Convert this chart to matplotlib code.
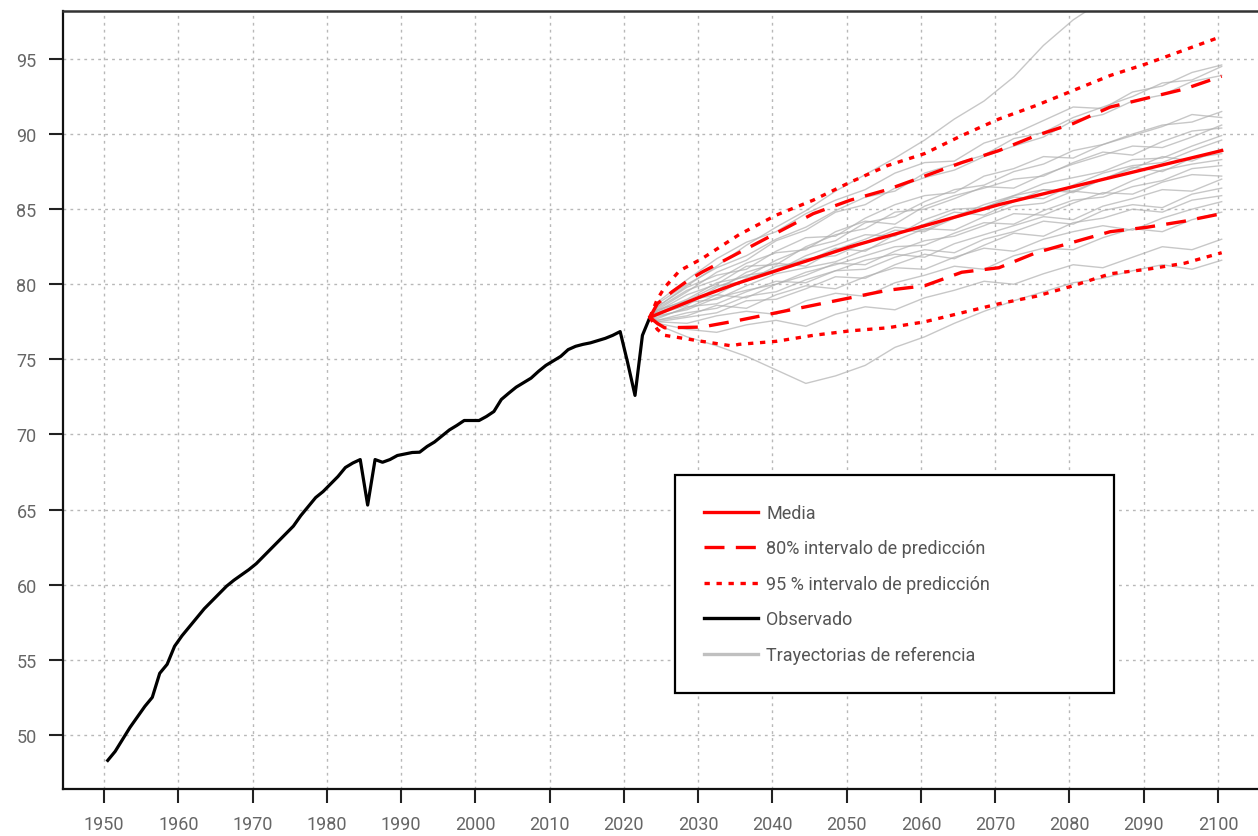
import matplotlib
matplotlib.use('Agg')
import matplotlib.pyplot as plt

plt.rcParams['font.family'] = ['Roboto', 'DejaVu Sans']

# Observed life expectancy, 1950-2023
obs_years = list(range(1950, 2024))
obs_values = [48.3, 48.9, 49.7, 50.5, 51.2, 51.9, 52.5, 54.1, 54.7, 55.9,
              56.6, 57.2, 57.8, 58.4, 58.9, 59.4, 59.9, 60.3, 60.65, 61.0,
              61.4, 61.9, 62.4, 62.9, 63.4, 63.9, 64.6, 65.2, 65.8, 66.2,
              66.7, 67.2, 67.8, 68.1, 68.33, 65.3, 68.33, 68.15, 68.33, 68.6,
              68.7, 68.8, 68.82, 69.2, 69.5, 69.9, 70.3, 70.6, 70.93, 70.93,
              70.93, 71.2, 71.53, 72.33, 72.75, 73.15, 73.45, 73.75, 74.2, 74.6,
              74.9, 75.2, 75.65, 75.87, 76.0, 76.1, 76.25, 76.4, 76.6, 76.85,
              74.8, 72.6, 76.6, 77.8]

# Projection summary (median and prediction intervals)
med_years = [2023, 2025, 2030, 2035, 2040, 2045, 2050, 2055, 2060, 2065,
             2070, 2075, 2080, 2085, 2090, 2095, 2100]
med_values = [77.8, 78.2, 79.2, 80.1, 80.9, 81.7, 82.5, 83.2, 83.9, 84.6,
              85.3, 85.9, 86.5, 87.1, 87.7, 88.3, 88.9]

up80_years = [2023, 2024, 2026, 2028, 2030, 2035, 2040, 2045, 2050, 2055,
              2060, 2065, 2070, 2075, 2080, 2085, 2090, 2095, 2100]
up80_values = [77.8, 78.7, 79.5, 80.2, 80.8, 82.1, 83.4, 84.7, 85.6, 86.3,
               87.2, 88.1, 88.9, 89.9, 90.7, 91.8, 92.4, 93.0, 93.85]

lo80_years = [2023, 2024, 2025, 2030, 2035, 2040, 2045, 2050, 2055, 2060,
              2065, 2070, 2075, 2080, 2085, 2090, 2095, 2100]
lo80_values = [77.8, 77.4, 77.1, 77.15, 77.6, 78.1, 78.6, 79.1, 79.6, 79.9,
               80.8, 81.1, 82.1, 82.8, 83.5, 83.8, 84.2, 84.7]

up95_years = [2023, 2024, 2025, 2027, 2030, 2035, 2040, 2045, 2050, 2055,
              2060, 2065, 2070, 2075, 2080, 2085, 2090, 2095, 2100]
up95_values = [77.8, 79.0, 79.8, 80.9, 81.7, 83.3, 84.6, 85.6, 86.8, 87.9,
               88.7, 89.9, 91.0, 91.9, 92.9, 93.9, 94.7, 95.6, 96.5]

lo95_years = [2023, 2024, 2025, 2030, 2034, 2035, 2040, 2045, 2050, 2055,
              2060, 2065, 2070, 2075, 2080, 2085, 2090, 2095, 2100]
lo95_values = [77.8, 77.0, 76.6, 76.2, 75.9, 76.0, 76.2, 76.6, 76.9, 77.1,
               77.5, 78.1, 78.7, 79.2, 79.9, 80.7, 81.0, 81.4, 82.1]

# Sample trajectories (grey), read at 4-year steps
traj_years = [2023] + list(range(2024, 2101, 4))
trajectories = [
    [77.8, 78.5, 79.9, 81.2, 82.6, 83.8, 84.9, 86.2, 87.3, 88.4, 89.6, 91.0, 92.2, 93.8, 95.9, 97.6, 98.9, 99.6, 100.4, 101.0, 101.3],
    [77.8, 77.3, 76.5, 75.9, 75.2, 74.3, 73.4, 73.9, 74.6, 75.8, 76.5, 77.4, 78.2, 78.9, 79.5, 80.1, 80.4, 80.9, 81.3, 81.0, 81.6],
    [77.8, 78.3, 79.5, 80.8, 81.6, 82.9, 83.6, 84.8, 85.3, 86.4, 87.1, 87.6, 88.5, 89.2, 89.8, 90.9, 91.3, 92.2, 92.6, 93.5, 93.9],
    [77.8, 77.6, 78.1, 78.4, 79.2, 79.5, 80.3, 80.9, 81.0, 81.8, 82.3, 82.1, 83.0, 83.5, 84.2, 84.0, 84.9, 85.3, 85.1, 86.0, 86.4],
    [77.8, 78.2, 79.0, 80.1, 80.5, 81.6, 82.4, 82.9, 84.1, 84.5, 85.5, 86.3, 86.6, 87.5, 88.0, 88.9, 89.3, 90.0, 90.6, 90.8, 91.5],
    [77.8, 77.9, 78.3, 79.1, 79.6, 80.0, 80.8, 81.3, 81.9, 82.5, 82.6, 83.4, 84.1, 84.0, 84.9, 85.6, 85.8, 86.5, 86.9, 87.7, 87.9],
    [77.8, 78.4, 79.6, 80.3, 81.4, 82.1, 82.3, 83.5, 84.2, 84.0, 85.2, 85.9, 86.4, 87.0, 87.2, 88.1, 88.8, 88.6, 89.5, 90.2, 90.4],
    [77.8, 77.5, 77.4, 77.9, 78.2, 78.0, 78.9, 79.4, 79.2, 80.1, 80.6, 81.2, 81.0, 81.9, 82.4, 82.3, 83.1, 83.7, 83.5, 84.3, 84.8],
    [77.8, 78.1, 78.9, 79.3, 80.4, 81.0, 81.7, 81.9, 82.8, 83.6, 83.5, 84.4, 85.1, 85.8, 85.7, 86.6, 87.4, 87.9, 88.1, 88.9, 89.6],
    [77.8, 78.7, 80.0, 81.1, 81.9, 83.0, 83.8, 84.9, 85.8, 86.2, 87.4, 88.0, 88.6, 89.7, 90.1, 91.1, 91.8, 92.5, 93.4, 93.6, 94.5],
    [77.8, 77.7, 78.5, 78.7, 79.5, 80.2, 80.1, 80.9, 81.6, 82.0, 81.8, 82.7, 83.3, 83.9, 84.5, 84.3, 85.2, 85.7, 86.3, 86.2, 87.0],
    [77.8, 78.0, 78.6, 79.8, 80.6, 80.9, 81.9, 82.6, 83.3, 83.2, 84.3, 85.0, 85.1, 85.9, 86.7, 87.1, 87.5, 88.3, 88.4, 89.2, 89.9],
    [77.8, 77.4, 77.0, 76.8, 77.3, 77.6, 77.2, 78.0, 78.5, 78.3, 79.1, 79.6, 80.2, 80.0, 80.7, 81.3, 81.1, 81.8, 82.5, 82.3, 83.0],
    [77.8, 78.5, 79.8, 80.6, 81.0, 82.2, 83.1, 83.2, 84.4, 85.3, 85.9, 86.1, 87.2, 87.7, 88.5, 88.4, 89.3, 89.9, 90.5, 91.3, 91.1],
    [77.8, 78.0, 78.8, 79.0, 79.9, 80.7, 81.1, 81.5, 82.3, 82.9, 83.7, 83.6, 84.5, 85.2, 85.4, 86.2, 86.0, 86.9, 87.6, 88.0, 88.3],
    [77.8, 78.3, 78.9, 79.9, 80.2, 81.2, 81.5, 82.4, 82.2, 83.3, 84.0, 84.8, 84.6, 85.5, 86.3, 86.2, 87.0, 87.8, 87.5, 88.4, 88.7],
    [77.8, 77.6, 77.9, 78.6, 78.4, 79.3, 79.9, 79.7, 80.5, 81.1, 81.0, 81.8, 82.4, 82.2, 83.0, 83.5, 83.9, 83.6, 84.4, 85.0, 85.5],
    [77.8, 78.8, 80.3, 81.7, 82.8, 83.5, 84.7, 85.6, 86.3, 87.4, 88.1, 88.2, 89.4, 90.0, 90.9, 91.8, 91.7, 92.8, 93.2, 94.1, 94.6],
    [77.8, 77.8, 78.4, 79.3, 79.1, 80.0, 80.6, 81.4, 81.3, 82.2, 82.9, 83.2, 83.9, 84.7, 84.6, 85.4, 86.1, 86.0, 86.8, 87.3, 87.2],
    [77.8, 78.2, 79.3, 80.0, 81.2, 81.3, 82.5, 83.3, 83.7, 84.8, 85.0, 85.7, 86.5, 86.4, 87.3, 88.0, 88.6, 89.2, 89.1, 89.8, 90.6],
    [77.8, 77.5, 77.8, 78.1, 78.9, 79.0, 79.7, 80.5, 80.4, 81.3, 82.0, 81.7, 82.6, 83.4, 83.2, 84.1, 84.4, 85.0, 84.8, 85.6, 85.9],
    [77.8, 78.1, 78.7, 79.6, 80.8, 81.4, 81.2, 82.3, 83.0, 83.8, 83.6, 84.5, 85.3, 85.9, 86.3, 86.1, 87.0, 87.7, 88.5, 88.2, 89.0],
]

x_ticks = list(range(1950, 2101, 10))
y_ticks = list(range(50, 96, 5))

DASH80 = (6.0, 3.4)
DOT95 = (1.6, 2.0)


def mid(years):
    # values are plotted at mid-year
    return [y + 0.5 for y in years]


fig = plt.figure(figsize=(12.58, 8.37), dpi=100)
ax = fig.add_axes([0.0501, 0.0562, 0.96, 0.9296])

for tr in trajectories:
    ax.plot(mid(traj_years), tr, color='#b0b0b0', lw=1, alpha=0.7, zorder=2)

ax.plot(mid(obs_years), obs_values, color='black', lw=2.3, zorder=4)
ax.plot(mid(up95_years), up95_values, color='red', lw=2.4, dashes=DOT95, zorder=5)
ax.plot(mid(lo95_years), lo95_values, color='red', lw=2.4, dashes=DOT95, zorder=5)
ax.plot(mid(up80_years), up80_values, color='red', lw=2.4, dashes=DASH80, zorder=5)
ax.plot(mid(lo80_years), lo80_values, color='red', lw=2.4, dashes=DASH80, zorder=5)
ax.plot(mid(med_years), med_values, color='red', lw=2.4, zorder=6)

# legend proxies
h_med, = ax.plot([], [], color='red', lw=2.4, label='Media')
h_80, = ax.plot([], [], color='red', lw=2.4, dashes=DASH80,
                label='80% intervalo de predicción')
h_95, = ax.plot([], [], color='red', lw=2.4, dashes=DOT95,
                label='95 % intervalo de predicción')
h_obs, = ax.plot([], [], color='black', lw=2.4, label='Observado')
h_tr, = ax.plot([], [], color='#c0c0c0', lw=2.4, label='Trayectorias de referencia')

ax.set_xlim(1944.48, 2107.1)
ax.set_ylim(46.4, 98.2)
ax.set_xticks(x_ticks)
ax.set_yticks(y_ticks)
ax.grid(True, color='#b8b8b8', lw=1, linestyle=(0, (2, 3)))
ax.set_axisbelow(True)

ax.tick_params(axis='both', direction='out', length=10, width=1.5,
               color='#222222', labelsize=13, labelcolor='#666666', pad=9)
for side in ['left', 'bottom']:
    ax.spines[side].set_linewidth(1.6)
    ax.spines[side].set_color('#111111')
ax.spines['top'].set_linewidth(1.8)
ax.spines['top'].set_color('#333333')
ax.spines['right'].set_visible(False)

leg = ax.legend(handles=[h_med, h_80, h_95, h_obs, h_tr],
                loc='upper left',
                bbox_to_anchor=(675 / 1258, 145 / 837, 439 / 1258, 216 / 837),
                bbox_transform=fig.transFigure, mode='expand',
                fontsize=13, labelcolor='#555555', frameon=True, fancybox=False,
                edgecolor='black', framealpha=1, handlelength=3.0,
                handletextpad=0.45, labelspacing=0.97, borderpad=1.6,
                borderaxespad=0)
leg.get_frame().set_linewidth(1.6)

plt.savefig('out.png', dpi=100)
